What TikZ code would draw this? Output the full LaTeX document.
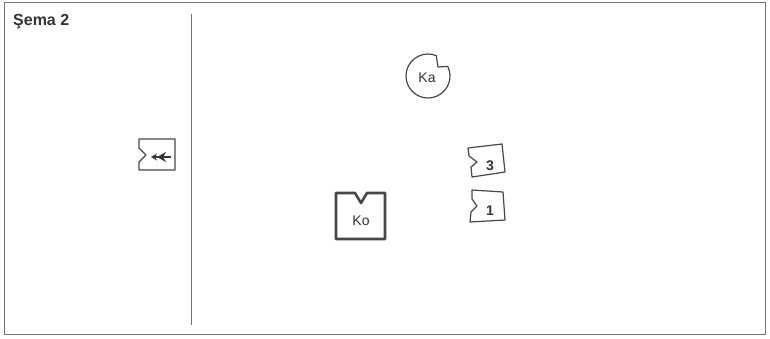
\documentclass[tikz,border=0pt]{standalone}
\usepackage{fontspec}
\setmainfont{Liberation Sans}
\usetikzlibrary{arrows.meta}
\begin{document}
\begin{tikzpicture}[x=1pt, y=-1pt, line join=round,
    piece/.style={draw=black!72, line width=1.2pt, fill=white},
    lbl/.style={text=black!80, inner sep=0pt, font=\fontsize{14}{16}\selectfont}]
\useasboundingbox (0,0) rectangle (770,338);
\draw[black!55, line width=0.8pt] (4,2) rectangle (765,334);
\draw[black!55, line width=0.8pt] (191,14) -- (191,325);
\node[anchor=base west, inner sep=0pt, text=black!80,
      font=\bfseries\fontsize{16}{18}\selectfont] (title) at (13,25) {Şema 2};
% piece with the double arrow
\draw[piece] (139,139) -- (175,139) -- (175,170) -- (139,170) -- (139,162)
  -- (146,155) -- (139,148) -- cycle;
\coordinate (tipL) at (151,157);
\coordinate (tipR) at (171,157);
\draw[black!78, line width=1.4pt,
  {Stealth[length=6pt,width=7pt]Stealth[length=9pt,width=10pt]}-] (tipL) -- (tipR);
% Ka
\draw[piece] (428,76) ++(-26:22) arc[start angle=-26, end angle=292, radius=22]
  -- (438,67) -- cycle;
\node[lbl] (ka) at (427,78) {Ka};
% Ko
\draw[piece, line width=2.6pt] (336,193) -- (355,193) -- (361,203) -- (367,193)
  -- (385,193) -- (385,239) -- (336,239) -- cycle;
\node[lbl] (ko) at (361,221) {Ko};
% 3 and 1
\draw[piece] (468,148) -- (502,144) -- (505,172) -- (472,177) -- (471,167)
  -- (477,162) -- (469,156) -- cycle;
\node[lbl, font=\bfseries\fontsize{14}{16}\selectfont] (three) at (490,166) {3};
\draw[piece] (472,190) -- (503,192) -- (505,220) -- (470,222) -- (471,212)
  -- (477,206) -- (472,199) -- cycle;
\node[lbl, font=\bfseries\fontsize{14}{16}\selectfont] (one) at (490,211) {1};
\end{tikzpicture}
\end{document}
